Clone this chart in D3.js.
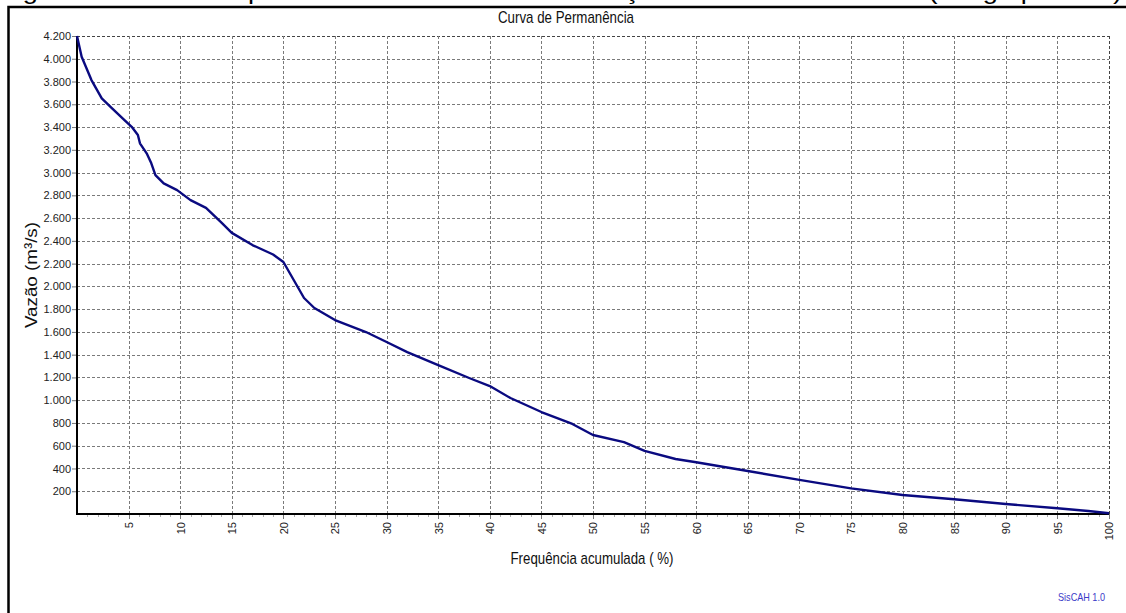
<!DOCTYPE html>
<html>
<head>
<meta charset="utf-8">
<script src="https://cdn.jsdelivr.net/npm/d3@7"></script>
<style>
  body { margin: 0; background: #fff; }
  svg { display: block; }
</style>
</head>
<body>
<script>
var width = 1126;
var height = 613;
var chartTitle = "Curva de Permanência";
var captionText = "Figura 7 – Curva de permanência das vazões na seção de controle da bacia (Longo período)";
var xLabel = "Frequência acumulada ( %)";
var yLabel = "Vazão (m³/s)";
var creditText = "SisCAH 1.0";

// frequency (%) and discharge (m3/s)
var freq = [0, 0.45, 1.4, 2.4, 3.4, 4.6, 5.3, 5.9, 6.1, 6.75, 7.2, 7.6, 8.4, 9.7, 11,
  12.5, 14, 15, 17, 19, 20, 21, 22, 23, 25, 28, 30, 32, 35, 38, 40, 42, 45, 48, 50,
  53, 55, 58, 60, 65, 70, 75, 80, 85, 90, 95, 98, 100];
var flow = [4200, 4017, 3813, 3652, 3564, 3461, 3402, 3330, 3257, 3169, 3081, 2978, 2905, 2846, 2758,
  2690, 2560, 2470, 2363, 2280, 2214, 2056, 1898, 1810, 1704, 1599, 1511, 1423, 1309, 1195, 1124, 1019, 896, 791, 694,
  632, 555, 483, 455, 378, 300, 225, 167, 129, 88, 50, 26, 6];
var xTicks = d3.range(5, 101, 5);
var xMinorTicks = d3.range(1, 101, 1);
var yTicks = d3.range(200, 4201, 200);

var margin = {left: 77, top: 36, right: 1109, bottom: 514};

var ptBR = d3.formatLocale({decimal: ",", thousands: ".", grouping: [3], currency: ["R$", ""]});
var fmt = ptBR.format(",d");

var svg = d3.select("body").append("svg")
  .attr("width", width)
  .attr("height", height)
  .attr("font-family", "'Liberation Sans', Arial, sans-serif");

// caption of the page above the figure, only its descenders show
svg.append("text")
  .attr("x", 0)
  .attr("y", -1)
  .attr("font-size", 22)
  .attr("textLength", 1122)
  .attr("lengthAdjust", "spacingAndGlyphs")
  .attr("fill", "#000")
  .text(captionText);

svg.append("rect")
  .attr("x", 8.5)
  .attr("y", 7)
  .attr("width", 1130)
  .attr("height", 620)
  .attr("fill", "#fff")
  .attr("stroke", "#000")
  .attr("stroke-width", 2.5);

var x = d3.scaleLinear().domain([0, 100]).range([margin.left, margin.right]);
var y = d3.scaleLinear().domain([0, 4200]).range([margin.bottom, margin.top]);

// grid
var grid = svg.append("g");
grid.selectAll("line.hgrid")
  .data(yTicks)
  .enter().append("line")
  .attr("class", "hgrid")
  .attr("x1", margin.left)
  .attr("x2", margin.right)
  .attr("y1", function(d) { return Math.round(y(d)) + 0.5; })
  .attr("y2", function(d) { return Math.round(y(d)) + 0.5; })
  .attr("stroke", function(d) { return d === 4200 ? "#444" : "#7a7a7a"; })
  .attr("stroke-dasharray", "3,2");

grid.selectAll("line.vgrid")
  .data(xTicks)
  .enter().append("line")
  .attr("class", "vgrid")
  .attr("x1", function(d) { return Math.round(x(d)) + 0.5; })
  .attr("x2", function(d) { return Math.round(x(d)) + 0.5; })
  .attr("y1", margin.top)
  .attr("y2", margin.bottom)
  .attr("stroke", function(d) { return d === 100 ? "#444" : "#7a7a7a"; })
  .attr("stroke-dasharray", "3,2");

// minor ticks under the x axis
svg.append("g").selectAll("line")
  .data(xMinorTicks)
  .enter().append("line")
  .attr("x1", function(d) { return Math.round(x(d)) + 0.5; })
  .attr("x2", function(d) { return Math.round(x(d)) + 0.5; })
  .attr("y1", margin.bottom)
  .attr("y2", function(d) { return margin.bottom + (d % 5 === 0 ? 5 : 3); })
  .attr("stroke", function(d) { return d % 5 === 0 ? "#777" : "#aaa"; });

// y axis
var yAxis = svg.append("g")
  .attr("transform", "translate(" + margin.left + ",0)")
  .call(d3.axisLeft(y).tickValues(yTicks).tickFormat(fmt).tickSize(5).tickPadding(1));
yAxis.select(".domain").remove();
yAxis.selectAll(".tick line").attr("stroke", "#777");
yAxis.selectAll("text")
  .attr("font-family", "'Liberation Sans', Arial, sans-serif")
  .attr("font-size", 11)
  .attr("fill", "#222");

// x axis labels, rotated
var xAxis = svg.append("g")
  .attr("transform", "translate(0," + margin.bottom + ")")
  .call(d3.axisBottom(x).tickValues(xTicks).tickSize(0));
xAxis.select(".domain").remove();
xAxis.selectAll("text")
  .attr("font-family", "'Liberation Sans', Arial, sans-serif")
  .attr("font-size", 11)
  .attr("fill", "#222")
  .attr("text-anchor", "end")
  .attr("y", 0)
  .attr("dy", "0.35em")
  .attr("transform", "translate(0,8) rotate(-90)");

// axis lines
svg.append("line")
  .attr("x1", margin.left).attr("x2", margin.left)
  .attr("y1", margin.top).attr("y2", margin.bottom + 1)
  .attr("stroke", "#000").attr("stroke-width", 2);
svg.append("line")
  .attr("x1", margin.left - 1).attr("x2", margin.right)
  .attr("y1", margin.bottom).attr("y2", margin.bottom)
  .attr("stroke", "#000").attr("stroke-width", 2);

// curve
var line = d3.line()
  .x(function(d, i) { return x(freq[i]); })
  .y(function(d) { return y(d); });
svg.append("path")
  .datum(flow)
  .attr("d", line)
  .attr("fill", "none")
  .attr("stroke", "#0a0a80")
  .attr("stroke-width", 2.4)
  .attr("stroke-linejoin", "round");

// titles
svg.append("text")
  .attr("x", 566).attr("y", 23)
  .attr("font-size", 17)
  .attr("text-anchor", "middle")
  .attr("textLength", 136)
  .attr("lengthAdjust", "spacingAndGlyphs")
  .attr("fill", "#111")
  .text(chartTitle);

svg.append("text")
  .attr("x", 592).attr("y", 564)
  .attr("font-size", 17)
  .attr("text-anchor", "middle")
  .attr("textLength", 163)
  .attr("lengthAdjust", "spacingAndGlyphs")
  .attr("fill", "#111")
  .text(xLabel);

svg.append("text")
  .attr("transform", "translate(37,275) rotate(-90)")
  .attr("font-size", 17)
  .attr("text-anchor", "middle")
  .attr("textLength", 106)
  .attr("lengthAdjust", "spacingAndGlyphs")
  .attr("fill", "#111")
  .text(yLabel);

svg.append("text")
  .attr("x", 1105).attr("y", 601)
  .attr("font-size", 11)
  .attr("text-anchor", "end")
  .attr("textLength", 47)
  .attr("lengthAdjust", "spacingAndGlyphs")
  .attr("fill", "#3a3ac8")
  .text(creditText);
</script>
</body>
</html>
